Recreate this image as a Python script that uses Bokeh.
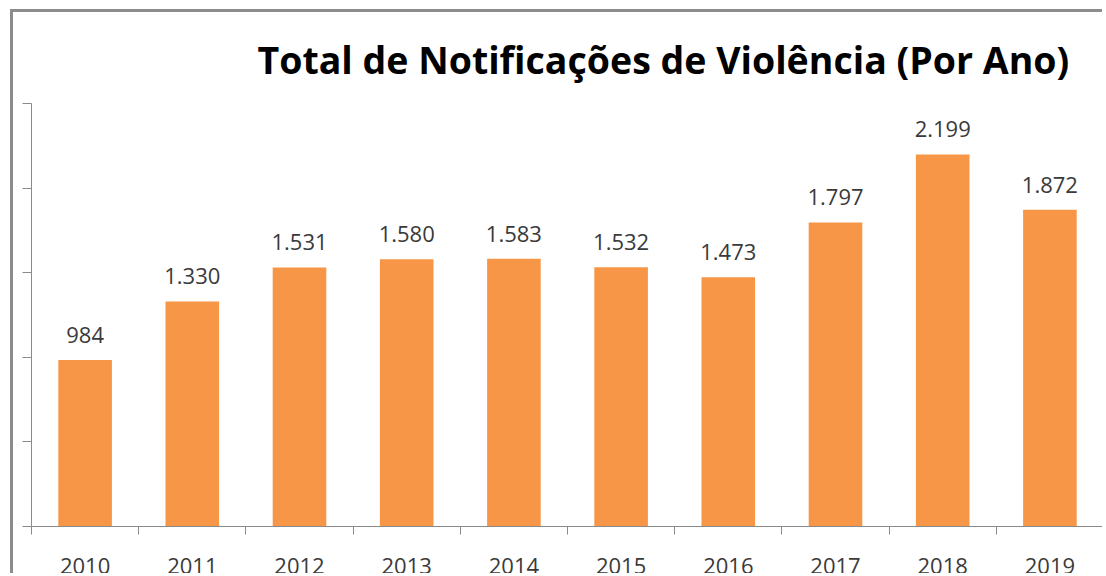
from bokeh.plotting import figure
from bokeh.models import ColumnDataSource, FixedTicker, Title
from bokeh.core.properties import value
from bokeh.embed import file_html
from bokeh.resources import INLINE

years = ["2010", "2011", "2012", "2013", "2014", "2015", "2016", "2017", "2018", "2019"]
totals = [984, 1330, 1531, 1580, 1583, 1532, 1473, 1797, 2199, 1872]
y_ticks = [0, 500, 1000, 1500, 2000, 2500]
title_text = "Total de Notificações de Violência (Por Ano)"

xs = [i + 0.5 for i in range(len(years))]
labels = [f"{v:,}".replace(",", ".") for v in totals]
src = ColumnDataSource(dict(x=xs, total=totals, label=labels, year=years))

FONT = "Open Sans"
AXIS_COLOR = "#8a8a8a"

p = figure(width=1092, height=564, x_range=(0, len(years)), y_range=(0, 2500),
           output_backend="svg", toolbar_location=None,
           min_border_left=18, min_border_right=2, min_border_top=90, min_border_bottom=49)
p.styles = {"margin-left": "10px", "margin-top": "9px",
            "border-left": "3px solid #8c8c8c", "border-top": "3px solid #8c8c8c"}
p.outline_line_color = None
p.xgrid.grid_line_color = None
p.ygrid.grid_line_color = None
p.background_fill_color = "white"
p.border_fill_color = "white"

t = Title(text=title_text, align="left", offset=226, text_font=FONT, text_font_style="bold",
          text_font_size="37.5px", text_color="#000000", standoff=38)
p.add_layout(t, "above")

p.vbar(x="x", top="total", width=0.5, source=src, fill_color="#F79646", line_color=None)
p.text(x="x", y="total", text="label", source=src, text_align="center",
       text_baseline="alphabetic", y_offset=-25, text_font=value(FONT),
       text_font_size="22px", text_color="#3a3a3a")

# x axis: boundary ticks as minor ticks, labels at centres
p.xaxis.ticker = FixedTicker(ticks=xs, minor_ticks=list(range(len(years) + 1)))
p.xaxis.major_label_overrides = {x: y for x, y in zip(xs, years)}
p.xaxis.major_tick_in = 0
p.xaxis.major_tick_out = 0
p.xaxis.minor_tick_in = 0
p.xaxis.minor_tick_out = 8
p.xaxis.minor_tick_line_color = AXIS_COLOR
p.xaxis.axis_line_color = AXIS_COLOR
p.xaxis.major_label_standoff = 23
p.xaxis.major_label_text_font = FONT
p.xaxis.major_label_text_font_size = "22px"
p.xaxis.major_label_text_color = "#3a3a3a"

# y axis: ticks only, no labels
p.yaxis.ticker = FixedTicker(ticks=y_ticks)
p.yaxis.major_label_overrides = {v: "" for v in y_ticks}
p.yaxis.major_label_standoff = 0
p.yaxis.major_tick_in = 0
p.yaxis.major_tick_out = 9
p.yaxis.minor_tick_line_color = None
p.yaxis.major_tick_line_color = AXIS_COLOR
p.yaxis.axis_line_color = AXIS_COLOR

open("out.html", "w").write(file_html(p, INLINE))
